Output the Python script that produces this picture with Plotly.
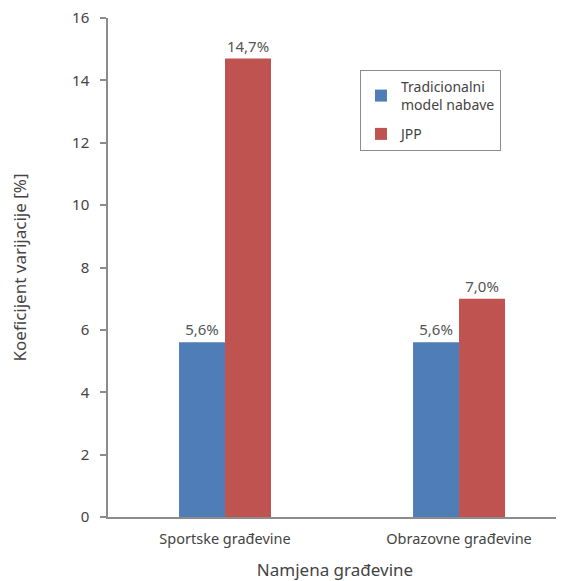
import plotly.graph_objects as go

categories = ["Sportske građevine", "Obrazovne građevine"]
traditional = [5.6, 5.6]
jpp = [14.7, 7.0]
trad_labels = ["5,6%", "5,6%"]
jpp_labels = ["14,7%", "7,0%"]
y_ticks = [0, 2, 4, 6, 8, 10, 12, 14, 16]

FONT = "Noto Sans"
fig = go.Figure()
fig.add_trace(go.Bar(
    x=categories, y=traditional, name="Tradicionalni<br>model nabave",
    legendgroup="a",
    marker=dict(color="#4F7DB8", line=dict(width=0)),
    text=trad_labels, textposition="outside", cliponaxis=False,
    textfont=dict(family=FONT, size=15, color="#555555"),
))
fig.add_trace(go.Bar(
    x=categories, y=jpp, name="JPP",
    legendgroup="b",
    marker=dict(color="#BE5350", line=dict(width=0)),
    text=jpp_labels, textposition="outside", cliponaxis=False,
    textfont=dict(family=FONT, size=15, color="#555555"),
))
fig.update_layout(
    width=556, height=573,
    margin=dict(l=100, r=2, t=10, b=64),
    paper_bgcolor="white", plot_bgcolor="white",
    barmode="group", bargap=0.607, bargroupgap=0,
    font=dict(family=FONT, size=13, color="#555555"),
    showlegend=True,
    legend=dict(
        x=0.555, y=0.896, xanchor="left", yanchor="top",
        bordercolor="#8c8c8c", borderwidth=1, bgcolor="white",
        font=dict(family=FONT, size=14, color="#444444"),
        itemwidth=30, tracegroupgap=8,
    ),
    xaxis=dict(
        range=[-0.5, 1.44], automargin=False,
        showline=True, linecolor="#8c8c8c", linewidth=1.5,
        ticks="", showgrid=False, zeroline=False,
        ticklabelstandoff=8,
        tickfont=dict(family=FONT, size=14.5, color="#444444"),
        title=dict(text="Namjena građevine", font=dict(family=FONT, size=17, color="#444444"), standoff=20),
    ),
    yaxis=dict(
        range=[0, 16], tickvals=y_ticks, automargin=False,
        showline=True, linecolor="#8c8c8c", linewidth=1.5,
        ticks="outside", ticklen=6, tickcolor="#8c8c8c", tickwidth=1.5,
        showgrid=False, zeroline=False,
        ticklabelstandoff=8, ticklabeloverflow="allow",
        tickfont=dict(family=FONT, size=15, color="#444444"),
        title=dict(text="Koeficijent varijacije [%]", font=dict(family=FONT, size=17, color="#444444"), standoff=45),
    ),
)
fig.write_html("out.html")
